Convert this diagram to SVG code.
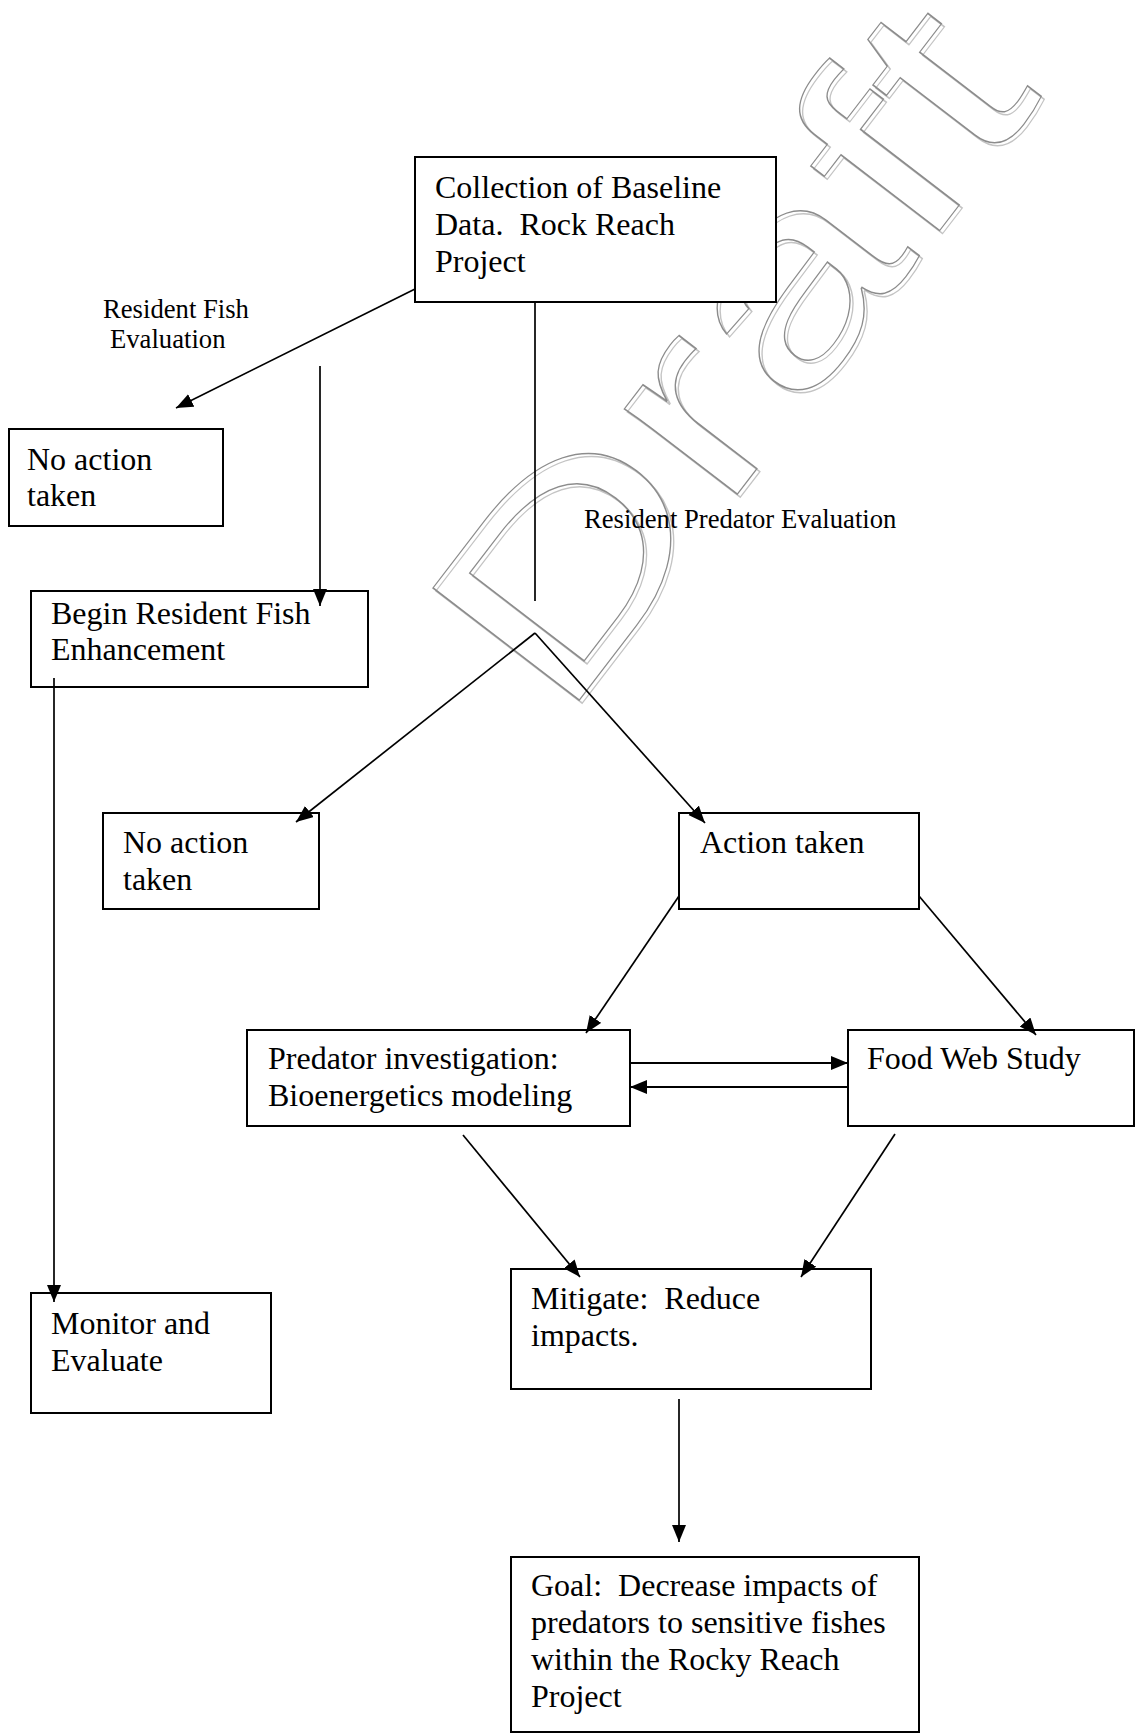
<svg xmlns="http://www.w3.org/2000/svg" width="1136" height="1735" viewBox="0 0 1136 1735">
<style>
.box{fill:#fff;stroke:#000;stroke-width:2}
.t{font-family:"Liberation Serif","Times New Roman",serif;font-size:32px;fill:#000;white-space:pre}
.lbl{font-family:"Liberation Serif","Times New Roman",serif;font-size:26.67px;fill:#000;white-space:pre}
.c{stroke:#000;stroke-width:1.7;fill:none}
.c2{stroke:#000;stroke-width:2.2;fill:none}
.wm{font-family:"Liberation Sans",Arial,sans-serif;font-size:268px;fill:none;stroke-width:1.2}
</style>
<defs>
<marker id="ah" markerUnits="userSpaceOnUse" markerWidth="19" markerHeight="15" refX="17" refY="7" orient="auto">
<path d="M0,0 L17,7 L0,14 z" fill="#000"/>
</marker>
</defs>
<rect width="1136" height="1735" fill="#fff"/>
<g id="watermark">
<text class="wm" stroke="#c4c4c4" transform="translate(564,727) rotate(-52.5)" textLength="793" lengthAdjust="spacingAndGlyphs">Draft</text>
<text class="wm" stroke="#8c8c8c" transform="translate(561,724) rotate(-52.5)" textLength="793" lengthAdjust="spacingAndGlyphs">Draft</text>
</g>
<g id="labels">
<text class="lbl" x="103" y="318">Resident Fish</text>
<text class="lbl" x="110" y="348">Evaluation</text>
<text class="lbl" x="584" y="528">Resident Predator Evaluation</text>
</g>
<g id="baseline">
<rect class="box" x="415" y="157" width="361" height="145"/>
<text class="t" x="435" y="198">Collection of Baseline</text>
<text class="t" x="435" y="235">Data.  Rock Reach</text>
<text class="t" x="435" y="272">Project</text>
</g>
<g id="noaction1">
<rect class="box" x="9" y="429" width="214" height="97"/>
<text class="t" x="27" y="470">No action</text>
<text class="t" x="27" y="506">taken</text>
</g>
<g id="begin">
<rect class="box" x="31" y="591" width="337" height="96"/>
<text class="t" x="51" y="624">Begin Resident Fish</text>
<text class="t" x="51" y="660">Enhancement</text>
</g>
<g id="noaction2">
<rect class="box" x="103" y="813" width="216" height="96"/>
<text class="t" x="123" y="853">No action</text>
<text class="t" x="123" y="890">taken</text>
</g>
<g id="action">
<rect class="box" x="679" y="813" width="240" height="96"/>
<text class="t" x="700" y="853">Action taken</text>
</g>
<g id="predator">
<rect class="box" x="247" y="1030" width="383" height="96"/>
<text class="t" x="268" y="1069">Predator investigation:</text>
<text class="t" x="268" y="1106">Bioenergetics modeling</text>
</g>
<g id="foodweb">
<rect class="box" x="848" y="1030" width="286" height="96"/>
<text class="t" x="867" y="1069">Food Web Study</text>
</g>
<g id="mitigate">
<rect class="box" x="511" y="1269" width="360" height="120"/>
<text class="t" x="531" y="1309">Mitigate:  Reduce</text>
<text class="t" x="531" y="1346">impacts.</text>
</g>
<g id="monitor">
<rect class="box" x="31" y="1293" width="240" height="120"/>
<text class="t" x="51" y="1334">Monitor and</text>
<text class="t" x="51" y="1371">Evaluate</text>
</g>
<g id="goal">
<rect class="box" x="511" y="1557" width="408" height="175"/>
<text class="t" x="531" y="1596">Goal:  Decrease impacts of</text>
<text class="t" x="531" y="1633">predators to sensitive fishes</text>
<text class="t" x="531" y="1670">within the Rocky Reach</text>
<text class="t" x="531" y="1707">Project</text>
</g>
<g id="connectors">
<line class="c" x1="415" y1="289" x2="176" y2="408" marker-end="url(#ah)"/>
<line class="c" x1="320" y1="366" x2="320" y2="606" marker-end="url(#ah)"/>
<line class="c" x1="535" y1="302" x2="535" y2="601"/>
<line class="c" x1="535" y1="633" x2="296" y2="822" marker-end="url(#ah)"/>
<line class="c" x1="535" y1="633" x2="705" y2="823" marker-end="url(#ah)"/>
<line class="c" x1="54" y1="678" x2="54" y2="1302" marker-end="url(#ah)"/>
<line class="c" x1="679" y1="896" x2="586" y2="1033" marker-end="url(#ah)"/>
<line class="c" x1="919" y1="896" x2="1036" y2="1035" marker-end="url(#ah)"/>
<line class="c2" x1="631" y1="1063" x2="848" y2="1063" marker-end="url(#ah)"/>
<line class="c2" x1="847" y1="1087" x2="630" y2="1087" marker-end="url(#ah)"/>
<line class="c" x1="463" y1="1135" x2="580" y2="1277" marker-end="url(#ah)"/>
<line class="c" x1="895" y1="1134" x2="801" y2="1277" marker-end="url(#ah)"/>
<line class="c" x1="679" y1="1399" x2="679" y2="1542" marker-end="url(#ah)"/>
</g>
</svg>
